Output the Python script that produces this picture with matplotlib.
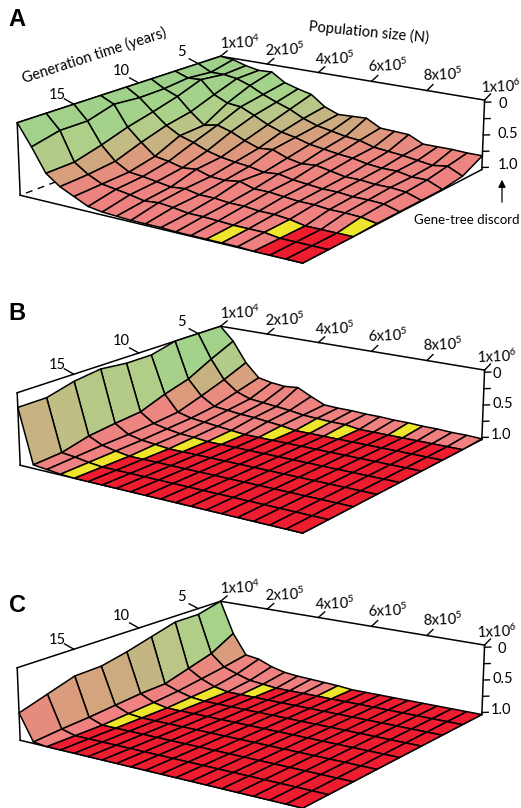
import numpy as np
import matplotlib
matplotlib.use("Agg")
import matplotlib.pyplot as plt
from matplotlib.colors import LinearSegmentedColormap, to_rgba
from matplotlib.patches import FancyArrowPatch

plt.rcParams['font.family'] = ['Lato', 'DejaVu Sans']
plt.rcParams['mathtext.default'] = 'regular'

# population size in thousands, generation time in years
population = [10, 62, 114, 166, 218, 270, 322, 374, 426, 478, 532, 584, 636, 688, 740, 792, 844, 896, 948, 1000]
generation = [3, 5, 7, 9, 11, 13, 15, 17, 19]

# gene-tree discordance, one row per generation time
discord_a = [
    [.00, .02, .08, .12, .11, .24, .30, .35, .50, .58, .57, .56, .67, .68, .69, .79, .79, .79, .80, .80],
    [.00, .10, .10, .13, .20, .30, .38, .45, .55, .62, .66, .70, .72, .78, .80, .82, .85, .88, .85, .95],
    [.00, .07, .06, .25, .34, .36, .45, .55, .62, .66, .72, .75, .78, .80, .84, .86, .86, .90, .90, .99],
    [.00, .11, .19, .38, .54, .50, .56, .65, .72, .70, .78, .82, .80, .84, .88, .88, .90, .90, .92, .99],
    [.00, .12, .29, .45, .56, .62, .70, .75, .78, .80, .84, .82, .86, .88, .90, .90, .92, .92, .93, .99],
    [.00, .09, .38, .56, .72, .75, .80, .78, .84, .85, .82, .88, .88, .90, .92, .92, .94, .94, .95, .99],
    [.00, .20, .50, .69, .80, .82, .85, .88, .86, .90, .90, .92, .92, .94, .94, .96, 1.0, 1.0, 1.0, 1.0],
    [.00, .20, .60, .73, .82, .85, .88, .92, .90, .92, .95, .95, .96, .97, .97, .97, 1.0, 1.0, 1.0, 1.0],
    [.00, .29, .61, .75, .84, .93, .96, .97, .98, .98, .98, .99, .99, .99, .99, .99, 1.0, 1.0, 1.0, 1.0],
]
discord_b = [
    [.00, .20, .50, .70, .74, .76, .74, .84, .93, .94, .94, .95, .95, .96, .96, .97, .97, .98, .98, .99],
    [.00, .36, .64, .79, .86, .88, .90, .92, .95, .96, .97, .97, 1.0, 1.0, 1.0, 1.0, 1.0, 1.0, 1.0, 1.0],
    [.00, .54, .76, .88, .90, .92, .93, .95, .97, 1.0, 1.0, 1.0, 1.0, 1.0, 1.0, 1.0, 1.0, 1.0, 1.0, 1.0],
    [.09, .64, .87, .92, .94, .96, .98, 1.0, 1.0, 1.0, 1.0, 1.0, 1.0, 1.0, 1.0, 1.0, 1.0, 1.0, 1.0, 1.0],
    [.09, .77, .90, .94, .97, .98, 1.0, 1.0, 1.0, 1.0, 1.0, 1.0, 1.0, 1.0, 1.0, 1.0, 1.0, 1.0, 1.0, 1.0],
    [.05, .80, .92, .96, .98, 1.0, 1.0, 1.0, 1.0, 1.0, 1.0, 1.0, 1.0, 1.0, 1.0, 1.0, 1.0, 1.0, 1.0, 1.0],
    [.10, .84, .93, .97, 1.0, 1.0, 1.0, 1.0, 1.0, 1.0, 1.0, 1.0, 1.0, 1.0, 1.0, 1.0, 1.0, 1.0, 1.0, 1.0],
    [.20, .93, .95, .98, 1.0, 1.0, 1.0, 1.0, 1.0, 1.0, 1.0, 1.0, 1.0, 1.0, 1.0, 1.0, 1.0, 1.0, 1.0, 1.0],
    [.20, .95, .97, .99, 1.0, 1.0, 1.0, 1.0, 1.0, 1.0, 1.0, 1.0, 1.0, 1.0, 1.0, 1.0, 1.0, 1.0, 1.0, 1.0],
]
discord_c = [
    [.00, .47, .77, .80, .88, .93, .95, .96, .97, .98, 1.0, 1.0, 1.0, 1.0, 1.0, 1.0, 1.0, 1.0, 1.0, 1.0],
    [.09, .66, .83, .90, .96, .98, 1.0, 1.0, 1.0, 1.0, 1.0, 1.0, 1.0, 1.0, 1.0, 1.0, 1.0, 1.0, 1.0, 1.0],
    [.09, .76, .88, .96, 1.0, 1.0, 1.0, 1.0, 1.0, 1.0, 1.0, 1.0, 1.0, 1.0, 1.0, 1.0, 1.0, 1.0, 1.0, 1.0],
    [.19, .86, .93, .98, 1.0, 1.0, 1.0, 1.0, 1.0, 1.0, 1.0, 1.0, 1.0, 1.0, 1.0, 1.0, 1.0, 1.0, 1.0, 1.0],
    [.29, .87, .96, 1.0, 1.0, 1.0, 1.0, 1.0, 1.0, 1.0, 1.0, 1.0, 1.0, 1.0, 1.0, 1.0, 1.0, 1.0, 1.0, 1.0],
    [.37, .90, .98, 1.0, 1.0, 1.0, 1.0, 1.0, 1.0, 1.0, 1.0, 1.0, 1.0, 1.0, 1.0, 1.0, 1.0, 1.0, 1.0, 1.0],
    [.38, .93, 1.0, 1.0, 1.0, 1.0, 1.0, 1.0, 1.0, 1.0, 1.0, 1.0, 1.0, 1.0, 1.0, 1.0, 1.0, 1.0, 1.0, 1.0],
    [.50, .95, 1.0, 1.0, 1.0, 1.0, 1.0, 1.0, 1.0, 1.0, 1.0, 1.0, 1.0, 1.0, 1.0, 1.0, 1.0, 1.0, 1.0, 1.0],
    [.62, .98, 1.0, 1.0, 1.0, 1.0, 1.0, 1.0, 1.0, 1.0, 1.0, 1.0, 1.0, 1.0, 1.0, 1.0, 1.0, 1.0, 1.0, 1.0],
]

# cells (row, column) drawn in yellow
yellow_a = [(7, 13), (6, 15), (5, 18)]
yellow_b = [(7, 3), (6, 3), (5, 4), (4, 5), (3, 6), (2, 8), (1, 9), (1, 11), (0, 14)]
yellow_c = [(5, 2), (4, 2), (3, 3), (2, 3), (1, 5), (0, 9)]

pop_ticks = [10, 200, 400, 600, 800, 1000]
pop_labels = ['1x10$^{4}$', '2x10$^{5}$', '4x10$^{5}$', '6x10$^{5}$', '8x10$^{5}$', '1x10$^{6}$']
gen_ticks = [5, 10, 15]
disc_ticks = [0, 0.25, 0.5, 0.75, 1.0]

panels = ['A', 'B', 'C']
panel_data = [discord_a, discord_b, discord_c]
panel_yellow = [yellow_a, yellow_b, yellow_c]
panel_shift = [0, 270, 545]
letter_y = [19, 313, 605]
disc_label_x = [(503, 508, 508), (497, 503, 501), (502, 503, 501)]
last_pop_x = [501, 497, 497]

cmap = LinearSegmentedColormap.from_list('discord', [
    (0.0, '#9FD18A'), (0.3, '#A5D28A'), (0.4, '#B0CE88'), (0.5, '#BDC286'),
    (0.6, '#CBAC80'), (0.7, '#DC9A7C'), (0.8, '#EC8580'), (1.0, '#F08080')])

W, H = 521, 808
fig = plt.figure(figsize=(W / 100, H / 100), dpi=100)
S, CX, CY = 2506.8, 256.49, 146.84
tick_inset = 0.03


def label(x, y, s, **kw):
    kw.setdefault('fontsize', 10.5)
    kw.setdefault('ha', 'center')
    kw.setdefault('va', 'center')
    fig.text(x / W, 1 - y / H, s, **kw)


def cell_colors(z, yellow):
    mean = (z[:-1, :-1] + z[1:, :-1] + z[:-1, 1:] + z[1:, 1:]) / 4
    colors = cmap(mean)
    colors[mean >= 0.9999] = to_rgba('#ED1C2E')
    for r, c in yellow:
        colors[r, c] = to_rgba('#EFE62B')
    return colors


for k in range(3):
    dy = panel_shift[k]
    ax = fig.add_axes([0, 0, 1, 1], projection='3d', computed_zorder=False)
    ax.set_xlim(population[0], population[-1])
    ax.set_ylim(generation[-1], generation[0])
    ax.set_zlim(1, 0)
    ax.view_init(elev=16.578, azim=-55.12, roll=-0.007)
    ax.set_proj_type('persp', focal_length=0.6817)
    ax.set_box_aspect((4.4877, 4.528, 1))
    ax.set_axis_off()
    ax.patch.set_visible(False)
    vl = ax.viewLim
    ax.set_position([(CX + S * vl.x0) / W, 1 - (CY + dy - S * vl.y0) / H,
                     S * (vl.x1 - vl.x0) / W, S * (vl.y1 - vl.y0) / H])

    x0, x1 = population[0], population[-1]
    g0, g1 = generation[0], generation[-1]
    lines = []
    box = [([x0, x1], [g0, g0], [0, 0]), ([x0, x0], [g0, g1], [0, 0]),
           ([x0, x0], [g1, g1], [0, 1]), ([x1, x1], [g0, g0], [0, 1]),
           ([x0, x1], [g1, g1], [1, 1]), ([x1, x1], [g0, g1], [1, 1])]
    for bx, by, bz in box:
        lines += ax.plot(bx, by, bz, color='k', lw=1.1, zorder=1)
    if k == 0:
        lines += ax.plot([x0, x0], [18.6, 15.2], [1, 1], color='k', lw=1.0, dashes=(5, 4), zorder=1)

    for t in pop_ticks:
        lines += ax.plot([t, t], [g0, g0 - 0.6], [0, -0.05], color='k', lw=1.0, zorder=1)
    for t in gen_ticks:
        lines += ax.plot([x0, x0 - 37], [t, t], [0, -0.05], color='k', lw=1.0, zorder=1)
    for t in disc_ticks:
        zt = tick_inset + t * (1 - 2 * tick_inset)
        lines += ax.plot([x1, x1 + 15], [g0, g0 - 0.2], [zt, zt], color='k', lw=1.0, zorder=1)

    X, Y = np.meshgrid(population, generation)
    Z = np.array(panel_data[k])
    surf = ax.plot_surface(X, Y, Z, facecolors=cell_colors(Z, panel_yellow[k]), shade=False,
                           rstride=1, cstride=1, edgecolor='k', linewidth=1.1, zorder=2)
    for art in lines + [surf]:
        art.set_clip_on(False)

    label(17, letter_y[k], panels[k], fontsize=17, fontweight='bold', family='Liberation Sans')
    pop_x = [240, 285, 335, 388, 443, last_pop_x[k]]
    pop_y = [43, 50, 59, 66, 75, 87]
    for px, py, s in zip(pop_x, pop_y, pop_labels):
        label(px, py + dy, s, rotation=2)
    for gx, gy, t in zip([181, 121, 57], [52, 71, 95], gen_ticks):
        label(gx, gy + dy, str(t))
    for lx, ly, s in zip(disc_label_x[k], [104, 134, 165], ['0', '0.5', '1.0']):
        label(lx, ly + dy, s)

label(94, 56, 'Generation time (years)', rotation=18)
label(369, 32, 'Population size (N)', rotation=-5.5)
label(467, 220, 'Gene-tree discord', fontsize=9.5)
fig.add_artist(FancyArrowPatch((502 / W, 1 - 205 / H), (502 / W, 1 - 177 / H),
                               transform=fig.transFigure, arrowstyle='-|>',
                               mutation_scale=11, color='k', lw=0.9))

plt.savefig("out.png", dpi=100)
